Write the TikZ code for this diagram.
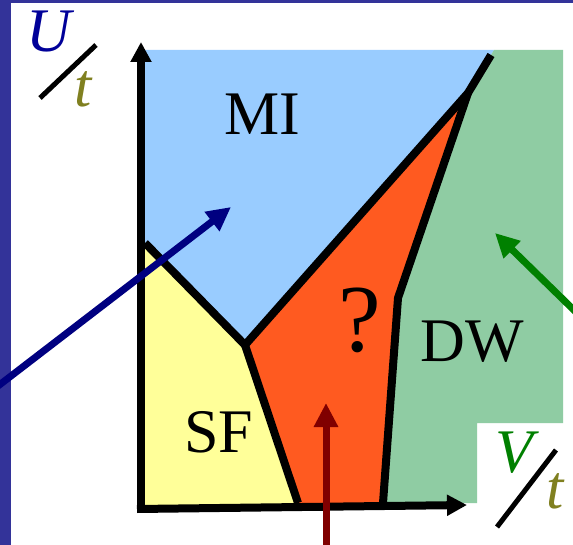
\documentclass[tikz,border=0pt]{standalone}
\usepackage{fontspec}
\setmainfont{Liberation Serif}
\usetikzlibrary{arrows.meta}
\definecolor{bord}{RGB}{51,51,153}
\definecolor{miblue}{RGB}{153,204,255}
\definecolor{dwgreen}{RGB}{143,204,163}
\definecolor{sfyellow}{RGB}{255,255,153}
\definecolor{qred}{RGB}{255,90,32}
\definecolor{ublue}{RGB}{0,0,153}
\definecolor{tolive}{RGB}{128,128,32}
\definecolor{vgreen}{RGB}{0,128,0}
\definecolor{arrred}{RGB}{128,0,0}
\definecolor{arrblue}{RGB}{0,0,128}
\begin{document}
\begin{tikzpicture}[x=1pt,y=-1pt,
  bnd/.style={line width=8pt},
  axisline/.style={line width=8pt,-{Triangle[length=20pt,width=20pt]}},
  pointer/.style={line width=7pt,-{Triangle[length=24pt,width=23pt]}},
  slash/.style={line width=5pt},
  lbl/.style={inner sep=0pt,anchor=base,font=\fontsize{62}{62}\selectfont},
  axlbl/.style={inner sep=0pt,anchor=base,font=\fontsize{62}{62}\selectfont\itshape}]
\useasboundingbox (0,0) rectangle (573,545);
\fill[white] (0,0) rectangle (573,545);
\fill[bord] (0,0) rectangle (573,3);
\fill[bord] (0,0) rectangle (11,545);
% corner points
\coordinate (tl) at (145,50);
\coordinate (top) at (494,50);
\coordinate (topend) at (491,55);
\coordinate (kink) at (468,93);
\coordinate (trip) at (245,345);
\coordinate (yl) at (145,243);
\coordinate (rg) at (398,298);
\coordinate (rgb) at (383,503);
\coordinate (syb) at (298,503);
% regions
\fill[miblue] (tl) -- (top) -- (kink) -- (trip) -- (yl) -- cycle;
\fill[dwgreen] (top) -- (563,50) -- (563,423) -- (477,423) -- (477,503) -- (rgb) -- (rg) -- (kink) -- cycle;
\fill[qred] (trip) -- (kink) -- (rg) -- (rgb) -- (syb) -- cycle;
\fill[sfyellow] (yl) -- (trip) -- (syb) -- (298,507) -- (145,507) -- cycle;
% boundaries
\draw[bnd] (yl) -- (trip) -- (kink) -- (topend);
\draw[bnd] (trip) -- (syb);
\draw[bnd] (kink) -- (rg) -- (rgb);
% axes
\coordinate (ybot) at (141,513);
\coordinate (ytop) at (141,42);
\coordinate (xl) at (137,509);
\coordinate (xr) at (467,505);
\draw[axisline] (ybot) -- (ytop);
\draw[axisline] (xl) -- (xr);
% labels
\node[lbl] (mi) at (262,135) {MI};
\node[lbl] (dw) at (472,362) {DW};
\node[lbl] (sf) at (219,452) {SF};
\node[inner sep=0pt,anchor=base,font=\fontsize{96}{96}\selectfont] (q) at (360,352) {?};
% pointers
\coordinate (bstart) at (-2,386);
\coordinate (bend) at (231,207);
\coordinate (gstart) at (580,316);
\coordinate (gend) at (495,233);
\coordinate (rstart) at (326,550);
\coordinate (rend) at (326,403);
\draw[pointer,arrblue] (bstart) -- (bend);
\draw[pointer,vgreen] (gstart) -- (gend);
\draw[pointer,arrred] (rstart) -- (rend);
% axis labels
\node[axlbl,text=ublue] (U) at (49,52) {U};
\node[axlbl,text=tolive] (t1) at (83,107) {t};
\coordinate (s1a) at (40,98);
\coordinate (s1b) at (96,45);
\draw[slash] (s1a) -- (s1b);
\node[axlbl,text=vgreen] (V) at (514,472) {V};
\node[axlbl,text=tolive] (t2) at (555,508) {t};
\coordinate (s2a) at (497,527);
\coordinate (s2b) at (556,450);
\draw[slash] (s2a) -- (s2b);
\end{tikzpicture}
\end{document}
